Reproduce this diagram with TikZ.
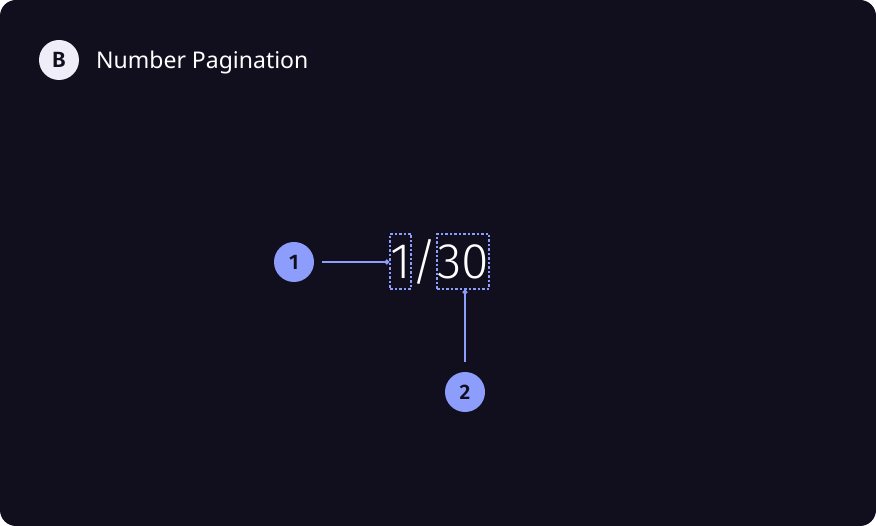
\documentclass[tikz,border=0pt]{standalone}
\usepackage{fontspec}
\setmainfont{Noto Sans}
\newfontfamily\lightnum{Fira Sans Light}
\newfontfamily\heavy{Fira Sans SemiBold}
\usetikzlibrary{arrows.meta}

\definecolor{panel}{HTML}{110F1E}
\definecolor{accent}{HTML}{8C9DFC}
\definecolor{badgefill}{HTML}{EEEDF8}

\tikzset{
  marker/.style={circle, fill=accent, minimum size=40pt, inner sep=0pt,
    text=panel, font=\heavy\fontsize{21}{24}\selectfont},
  digitbox/.style={draw=accent, dash pattern=on 2.5pt off 2pt, line width=1.1pt, inner sep=0pt,
    minimum height=55pt, text=white, font=\lightnum\fontsize{50}{56}\selectfont},
  lead/.style={accent, line width=1.3pt}
}

\begin{document}
\begin{tikzpicture}[x=1pt, y=-1pt]
  % Panel
  \fill[white] (0,0) rectangle (876,526);
  \fill[panel, rounded corners=16pt] (0,0) rectangle (876,526);
  \useasboundingbox (0,0) rectangle (876,526);

  % Header
  \node[circle, fill=badgefill, minimum size=40pt, inner sep=0pt, text=panel,
    font=\heavy\fontsize{22}{24}\selectfont] (badge) at (59,60) {B};
  \node[anchor=west, text=white, inner sep=0pt,
    font=\fontsize{23}{27}\selectfont] (title) at (96,63) {Number Pagination};

  % Page number 1/30
  \node[digitbox, minimum width=21pt] (current) at (400.5,261.5) {1};
  \node[text=white, inner sep=0pt, font=\lightnum\fontsize{50}{56}\selectfont]
    (slash) at (424,261.5) {/};
  \node[digitbox, minimum width=52pt] (total) at (463,261.5) {30};

  % Markers
  \node[marker] (mark1) at (294,262) {1};
  \node[marker] (mark2) at (465,392) {2};

  \draw[lead, -{Circle[length=5pt]}, shorten <=8pt] (mark1) -- (mark1 -| current.west);
  \draw[lead, {Circle[length=5pt]}-, shorten >=10pt] (mark2 |- total.south) -- (mark2);
\end{tikzpicture}
\end{document}
